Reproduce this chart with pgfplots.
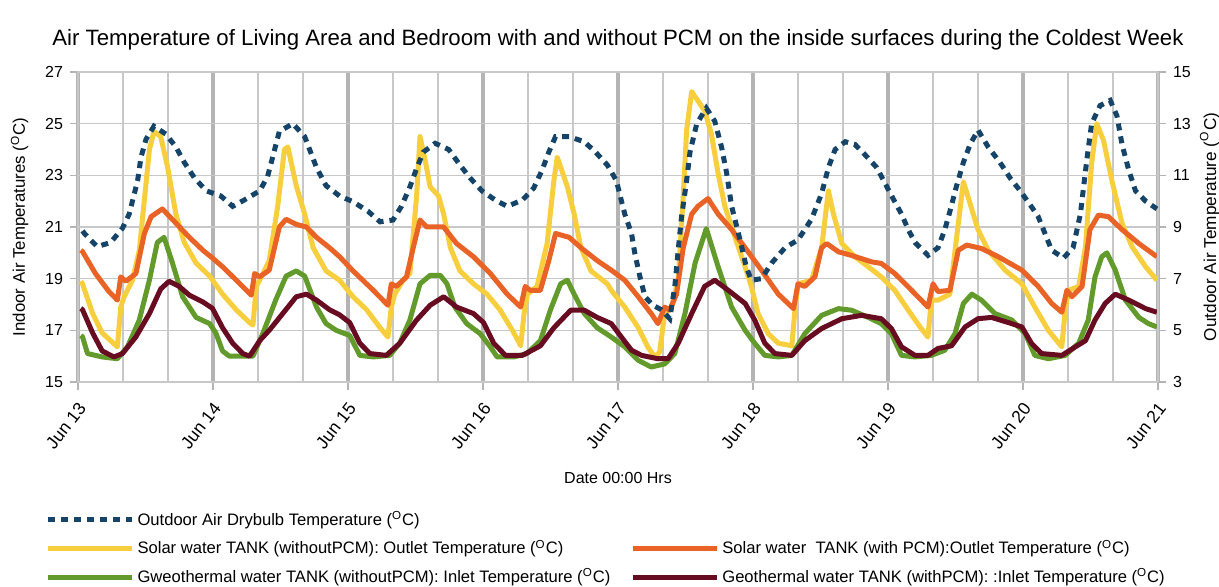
\documentclass[border=0pt]{standalone}
\usepackage{fontspec}
\setmainfont{Liberation Sans}
\usepackage{pgfplots}
\pgfplotsset{compat=1.18}
\definecolor{cOut}{RGB}{22,68,104}
\definecolor{cYel}{RGB}{247,206,62}
\definecolor{cOra}{RGB}{233,98,38}
\definecolor{cGre}{RGB}{98,154,44}
\definecolor{cMar}{RGB}{104,12,34}
\definecolor{gridthick}{RGB}{180,180,180}
\definecolor{gridthin}{RGB}{200,200,200}
\pgfplotsset{
  outdoorstyle/.style={cOut, line width=2.5pt, dash pattern=on 3.5pt off 3pt},
  serstyle/.style={line width=2.5pt, line join=round},
  common/.style={
    at={(0,0)}, anchor=south west,
    scale only axis, width=540pt, height=155pt,
    xmin=0, xmax=192,
    /pgf/number format/assume math mode=true,
    tick label style={font=\fontsize{8}{9}\selectfont},
    axis line style={gridthin, line width=0.6pt},
    tick align=outside,
    major tick length=4pt,
    minor tick length=0pt,
    tick style={gridthick, line width=0.8pt},
  }
}
\begin{document}
\begin{tikzpicture}
\useasboundingbox (-39pt,-102.5pt) rectangle (570.5pt,191pt);
\begin{axis}[common,
  ymin=15, ymax=27,
  xtick={0,24,...,192},
  xticklabels={Jun 13,Jun 14,Jun 15,Jun 16,Jun 17,Jun 18,Jun 19,Jun 20,Jun 21},
  minor x tick num=2,
  ytick={15,17,...,27},
  xtick pos=bottom, ytick pos=left,
  xmajorgrids, xminorgrids, ymajorgrids,
  major x grid style={gridthick, line width=2pt},
  minor x grid style={gridthin, line width=0.7pt},
  major y grid style={gridthin, line width=0.7pt},
  x tick label style={rotate=52, anchor=north east, inner sep=1pt, xshift=-3.5pt, yshift=-2pt, font=\fontsize{8.8}{9}\selectfont},
  xlabel={Date 00:00 Hrs},
  every axis x label/.style={at={(axis description cs:0.5,-0.31)}, anchor=center, font=\fontsize{8}{9}\selectfont},
  ylabel={Indoor Air Temperatures (\textsuperscript{O}C)},
  every axis y label/.style={at={(axis description cs:-0.054,0.5)}, rotate=90, anchor=center, font=\fontsize{8.4}{9}\selectfont},
  title={Air Temperature of Living Area and Bedroom with and without PCM on the inside surfaces during the Coldest Week},
  every axis title/.style={at={(axis description cs:0.5,1.103)}, anchor=center, font=\fontsize{11.1}{13}\selectfont},
  legend columns=2,
  legend cell align=left,
  legend style={draw=none, fill=none, at={(axis description cs:-0.036,-0.390)}, anchor=north west,
    font=\fontsize{8.3}{9}\selectfont, row sep=2.0pt,
    nodes={inner xsep=1.5pt},
    /tikz/every even column/.append style={column sep=8.5pt}},
  legend image code/.code={\draw[#1, line cap=butt] (0pt,0pt) -- (42pt,0pt);},
]
\addlegendimage{outdoorstyle}
\addlegendentry{Outdoor Air Drybulb Temperature (\textsuperscript{O}C)}
\addlegendimage{empty legend}
\addlegendentry{}
\addplot[serstyle, cYel] coordinates {
(0.5,18.9)(0.8,18.8)(2.6,17.65)(4.3,16.9)(7.0,16.36)(7.6,17.9)(8.2,18.3)(9.7,18.95)(10.9,20.1)(11.8,22.05)
(12.7,24.0)(13.5,24.7)(14.7,24.5)(15.9,23.35)(17.4,21.5)(18.9,20.4)(21.0,19.6)(23.4,19.1)(25.7,18.4)(28.1,17.8)
(30.5,17.3)(31.1,17.2)(31.7,18.7)(32.9,19.2)(34.0,19.7)(35.5,21.8)(36.7,24.0)(37.3,24.1)(38.8,22.6)(40.3,21.5)
(41.8,20.2)(44.1,19.3)(46.5,18.94)(48.9,18.3)(51.3,17.8)(53.7,17.1)(55.1,16.74)(55.7,17.9)(56.3,18.4)(57.8,18.94)
(59.0,19.2)(60.2,22.2)(60.8,24.5)(61.7,23.6)(62.6,22.56)(64.1,22.2)(65.0,21.5)(66.2,20.2)(67.9,19.3)(70.3,18.8)
(72.7,18.4)(75.0,17.8)(77.5,16.9)(78.7,16.4)(79.3,17.65)(79.9,18.4)(81.6,18.7)(83.4,20.36)(84.6,22.8)(85.2,23.7)
(87.0,22.56)(88.2,21.5)(89.4,20.2)(91.2,19.3)(94.1,18.8)(94.8,18.55)(97.2,17.9)(99.6,17.1)(101.3,16.36)(102.5,15.97)
(103.4,16.16)(104.3,17.65)(105.5,17.9)(106.7,18.94)(107.6,22.2)(108.2,24.75)(109.1,26.24)(111.4,25.5)(112.6,24.6)(113.8,23.07)
(115.0,21.8)(116.8,20.6)(118.6,19.46)(119.7,18.7)(120.9,17.65)(122.7,16.87)(124.5,16.5)(126.9,16.4)(127.5,17.9)(128.0,18.8)
(130.4,18.94)(132.2,20.2)(133.4,22.4)(134.3,21.5)(135.8,20.36)(138.1,19.85)(140.5,19.46)(142.8,19.07)(145.2,18.55)(147.6,17.78)
(149.9,17.07)(151.1,16.74)(151.7,18.17)(152.9,18.17)(155.0,18.4)(156.2,20.6)(157.4,22.75)(158.6,21.9)(160.0,20.9)(161.8,20.1)
(164.8,19.33)(167.8,18.8)(170.1,17.9)(172.5,17.0)(174.9,16.36)(175.5,17.78)(176.1,18.55)(177.9,18.7)(179.1,20.23)(180.2,23.46)
(181.1,25.0)(182.3,24.36)(183.8,22.8)(185.6,21.14)(187.4,20.23)(189.8,19.46)(191.8,18.94)
};
\addlegendentry{Solar water TANK (withoutPCM): Outlet Temperature (\textsuperscript{O}C)}
\addplot[serstyle, cOra] coordinates {
(0.5,20.1)(0.8,20.05)(3.1,19.2)(5.5,18.5)(7.0,18.17)(7.6,19.07)(8.5,18.9)(10.3,19.2)(11.8,20.75)(13.0,21.4)
(15.0,21.7)(17.4,21.15)(19.8,20.6)(22.2,20.1)(23.9,19.8)(25.7,19.46)(28.1,18.95)(30.8,18.36)(31.4,19.2)(32.3,19.07)
(34.0,19.33)(35.8,21.0)(37.0,21.3)(38.8,21.1)(40.6,21.0)(42.4,20.6)(44.7,20.2)(46.5,19.85)(48.9,19.3)(52.5,18.55)
(55.1,17.97)(55.7,18.8)(56.6,18.7)(58.4,19.07)(59.6,20.2)(60.8,21.27)(62.0,21.0)(65.0,21.0)(67.3,20.36)(70.3,19.85)
(73.3,19.2)(76.3,18.4)(78.7,17.9)(79.5,18.7)(80.4,18.55)(82.2,18.55)(83.7,19.7)(84.9,20.75)(87.3,20.6)(89.4,20.2)
(92.3,19.7)(94.8,19.33)(97.2,18.94)(99.6,18.3)(101.9,17.65)(103.1,17.26)(104.3,17.9)(105.2,17.78)(106.4,18.4)(107.6,20.2)
(109.1,21.5)(110.2,21.8)(112.0,22.1)(113.8,21.5)(116.2,20.9)(118.6,20.2)(121.5,19.33)(124.5,18.4)(127.2,17.84)(128.0,18.8)
(129.2,18.7)(131.0,19.07)(132.2,20.2)(133.1,20.36)(135.2,20.04)(137.5,19.9)(141.1,19.65)(142.8,19.59)(145.2,19.2)(147.6,18.68)
(149.9,18.17)(151.1,17.9)(152.0,18.8)(152.9,18.5)(155.0,18.55)(156.5,20.1)(158.0,20.3)(160.6,20.17)(163.6,19.85)(167.8,19.33)
(170.7,18.7)(173.1,18.04)(174.9,17.7)(175.8,18.55)(176.7,18.3)(178.5,18.7)(179.9,20.9)(181.4,21.46)(183.2,21.4)(185.6,20.9)
(188.6,20.36)(191.8,19.85)
};
\addlegendentry{Solar water\ \ TANK (with PCM):Outlet Temperature (\textsuperscript{O}C)}
\addplot[serstyle, cGre] coordinates {
(0.5,16.8)(0.8,16.75)(1.7,16.1)(4.3,15.97)(7.0,15.9)(8.8,16.36)(10.9,17.4)(12.7,18.95)(14.1,20.4)(15.3,20.6)
(16.8,19.6)(18.6,18.3)(21.0,17.5)(23.4,17.26)(24.5,16.9)(25.7,16.2)(26.9,16.0)(31.1,16.0)(32.9,16.9)(35.2,18.2)
(37.0,19.1)(38.8,19.3)(40.3,19.1)(42.4,17.9)(44.1,17.26)(45.9,17.0)(48.3,16.8)(50.1,16.03)(52.5,15.97)(55.4,16.03)
(57.2,16.5)(59.0,17.4)(60.8,18.8)(62.6,19.13)(64.4,19.13)(65.6,18.8)(67.0,17.9)(69.1,17.26)(71.5,16.87)(73.3,16.36)
(74.5,15.97)(77.5,15.97)(79.8,16.1)(82.2,16.6)(84.0,17.8)(85.8,18.8)(87.0,18.94)(88.2,18.4)(90.0,17.65)(92.3,17.1)
(94.8,16.74)(97.2,16.36)(99.6,15.84)(101.9,15.58)(104.3,15.7)(106.1,16.1)(107.9,17.65)(109.7,19.6)(111.7,20.94)(113.8,19.46)
(116.2,17.9)(118.6,17.0)(120.3,16.5)(122.1,16.03)(124.5,15.97)(126.9,16.03)(129.2,16.87)(132.2,17.58)(135.2,17.84)(137.5,17.78)
(140.5,17.5)(142.8,17.26)(144.6,16.87)(146.4,16.03)(148.8,15.97)(151.7,16.03)(154.1,16.23)(155.9,16.87)(157.4,18.04)(158.9,18.4)
(160.6,18.17)(163.0,17.65)(166.0,17.4)(168.4,16.87)(170.1,16.03)(172.5,15.9)(175.5,16.03)(177.9,16.5)(179.6,17.4)(180.8,19.07)
(182.0,19.85)(182.9,20.0)(184.4,19.33)(186.2,18.17)(188.6,17.5)(190.3,17.26)(191.8,17.13)
};
\addlegendentry{Gweothermal water TANK (withoutPCM): Inlet Temperature (\textsuperscript{O}C)}
\addplot[serstyle, cMar] coordinates {
(0.5,17.85)(0.8,17.8)(2.6,16.9)(4.3,16.2)(6.4,15.97)(7.9,16.1)(10.3,16.75)(12.7,17.65)(14.7,18.6)(16.2,18.9)
(18.0,18.7)(19.8,18.36)(22.2,18.1)(23.9,17.85)(25.7,17.1)(27.5,16.5)(29.3,16.1)(30.5,16.0)(32.3,16.6)(34.0,17.0)
(36.4,17.65)(38.8,18.3)(40.6,18.4)(42.4,18.17)(44.7,17.8)(46.5,17.6)(48.3,17.3)(50.1,16.5)(51.9,16.1)(54.8,16.03)
(57.2,16.5)(60.2,17.4)(62.6,17.97)(65.0,18.3)(67.3,17.9)(70.3,17.65)(72.1,17.3)(73.9,16.5)(76.0,16.03)(79.0,16.03)
(82.2,16.4)(84.6,17.1)(87.6,17.78)(90.0,17.78)(92.3,17.5)(94.8,17.26)(96.6,16.74)(98.4,16.23)(100.2,16.03)(103.1,15.9)
(104.9,15.9)(106.7,16.5)(109.1,17.65)(111.4,18.7)(113.2,18.94)(115.6,18.55)(118.6,18.04)(120.3,17.4)(122.1,16.5)(123.9,16.1)
(126.9,16.03)(129.2,16.6)(132.2,17.07)(135.8,17.45)(139.3,17.58)(142.8,17.45)(144.6,17.07)(146.4,16.36)(148.8,16.03)(151.1,16.03)
(152.9,16.3)(155.3,16.4)(157.7,17.13)(160.0,17.45)(162.4,17.5)(165.4,17.3)(167.8,17.13)(169.5,16.5)(171.3,16.1)(174.9,16.03)
(177.3,16.36)(179.1,16.6)(180.8,17.4)(182.6,18.04)(184.4,18.4)(186.8,18.17)(189.8,17.84)(191.8,17.7)
};
\addlegendentry{Geothermal water TANK (withPCM): :Inlet Temperature (\textsuperscript{O}C)}
\end{axis}
\begin{axis}[common,
  ymin=3, ymax=15,
  ytick={3,5,...,15},
  axis y line*=right,
  hide x axis,
  ylabel={Outdoor Air Temperature (\textsuperscript{O}C)},
  every axis y label/.style={at={(axis description cs:1.048,0.5)}, rotate=90, anchor=center, font=\fontsize{8.6}{9}\selectfont},
]
\addplot[outdoorstyle] coordinates {
(0.8,8.85)(1.1,8.76)(3.4,8.24)(5.8,8.4)(7.9,8.95)(9.1,9.5)(10.6,10.8)(11.2,11.7)(12.1,12.4)(13.5,12.9)
(15.6,12.6)(17.4,12.1)(18.9,11.5)(20.7,10.9)(22.8,10.4)(25.4,10.2)(27.5,9.8)(29.6,10.05)(32.3,10.4)(33.7,10.95)
(34.6,11.7)(35.8,12.7)(38.2,13.0)(40.3,12.5)(42.4,11.3)(44.1,10.6)(46.5,10.2)(48.9,9.98)(51.6,9.6)(53.7,9.2)
(56.0,9.27)(57.5,9.8)(59.0,10.55)(60.2,11.27)(61.4,11.9)(63.5,12.24)(65.9,12.0)(67.9,11.4)(69.7,10.9)(71.8,10.4)
(74.2,10.04)(76.3,9.8)(79.0,10.04)(81.0,10.5)(82.5,11.2)(83.7,11.9)(84.9,12.5)(87.3,12.5)(90.0,12.3)(92.0,11.9)
(94.1,11.4)(95.7,10.8)(97.2,9.5)(98.4,8.75)(99.0,7.97)(99.9,7.07)(100.8,6.3)(102.2,5.97)(103.7,5.8)(105.2,5.45)
(106.1,6.7)(106.7,8.1)(107.3,9.4)(108.2,10.8)(108.8,11.9)(110.0,13.0)(111.7,13.6)(113.2,13.1)(114.4,12.1)(115.3,11.1)
(116.2,9.8)(117.7,8.5)(118.8,7.46)(119.7,6.94)(121.5,7.0)(123.3,7.6)(125.7,8.2)(128.0,8.5)(130.4,9.3)(132.2,10.3)
(133.4,11.3)(134.6,12.0)(136.4,12.3)(138.1,12.2)(139.9,11.8)(142.0,11.3)(144.9,10.1)(146.4,9.5)(147.6,8.9)(148.8,8.4)
(151.1,7.9)(152.9,8.2)(154.1,8.9)(155.0,9.6)(156.2,10.6)(157.4,11.5)(158.6,12.2)(160.0,12.75)(161.8,12.1)(163.9,11.5)
(165.7,10.9)(167.5,10.4)(169.3,9.85)(170.7,9.4)(171.9,8.75)(173.1,8.1)(175.2,7.8)(176.9,8.2)(178.2,9.5)(178.8,10.6)
(179.4,11.7)(180.2,13.0)(181.7,13.7)(183.5,13.9)(184.7,13.3)(185.6,12.2)(186.8,11.2)(188.0,10.4)(189.8,10.0)(191.8,9.7)
};
\end{axis}
\end{tikzpicture}
\end{document}
